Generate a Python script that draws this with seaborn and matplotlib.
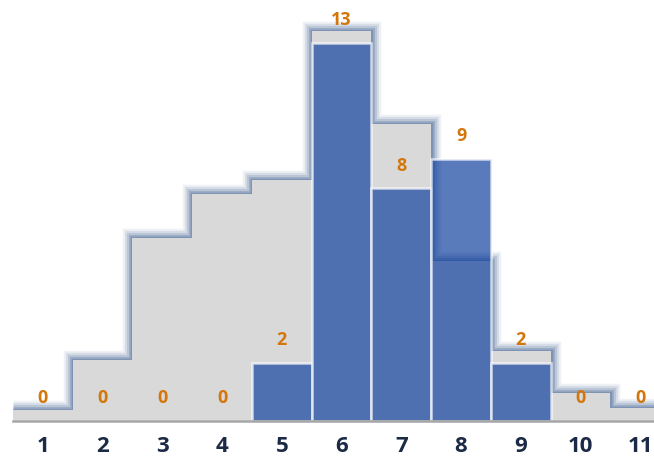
import numpy as np
import pandas as pd
import matplotlib
matplotlib.use("Agg")
import matplotlib.pyplot as plt
import seaborn as sns

categories = ["1", "2", "3", "4", "5", "6", "7", "8", "9", "10", "11"]
counts = [0, 0, 0, 0, 2, 13, 8, 9, 2, 0, 0]
background = [0.38, 2.1, 6.3, 7.8, 8.3, 13.4, 10.2, 5.5, 2.4, 0.95, 0.45]

sns.set_theme(style="white")
plt.rcParams["font.family"] = ["Open Sans", "DejaVu Sans"]
fig = plt.figure(figsize=(6.54, 4.62), dpi=100)
ax = fig.add_axes([13 / 654, 41 / 462, 641 / 654, 421 / 462])

edges = np.arange(len(categories) + 1) - 0.5

# glow around the grey step area
for lw, a in [(14, 0.10), (11, 0.16), (8, 0.24), (5, 0.34), (2.5, 0.45)]:
    ax.stairs(background, edges, baseline=None, color="#5f7aa3", linewidth=lw,
              alpha=a, zorder=1)
ax.stairs(background, edges, fill=True, color="#d9d9d9", zorder=2)

df = pd.DataFrame({"cat": categories, "count": counts})
sns.barplot(data=df, x="cat", y="count", order=categories, width=1.0,
            color=(19 / 255, 66 / 255, 159 / 255), saturation=1, alpha=0.7,
            edgecolor="white", linewidth=1.8, ax=ax, zorder=3)

for i, v in enumerate(counts):
    ax.text(i, v + 0.78, str(v), ha="center", va="center", fontsize=13,
            fontweight="bold", color="#d4760a", zorder=5)

ax.set_xlim(-0.5, 10.23)
ax.set_ylim(0, 14.47)
ax.set_xlabel("")
ax.set_ylabel("")
ax.set_yticks([])
for s in ["left", "right", "top"]:
    ax.spines[s].set_visible(False)
ax.spines["bottom"].set_color("#a6a6a6")
ax.spines["bottom"].set_linewidth(1.8)
ax.spines["bottom"].set_zorder(6)
ax.tick_params(axis="x", length=0, pad=11, labelsize=16, labelcolor="#1b2a45")
for t in ax.get_xticklabels():
    t.set_fontweight("bold")

fig.savefig("out.png", dpi=100)
